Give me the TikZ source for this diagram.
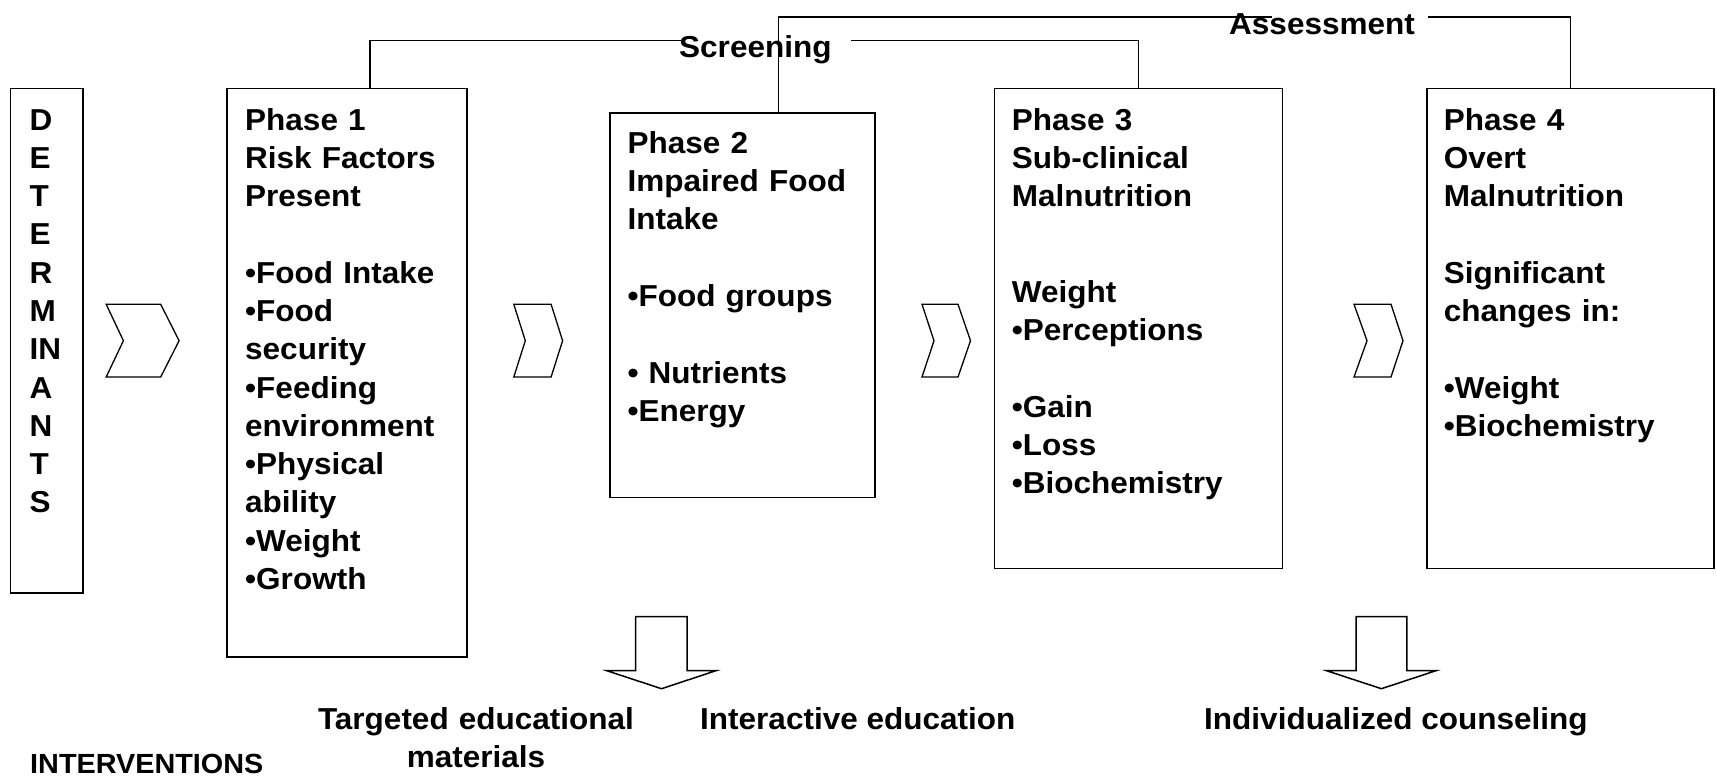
\documentclass[tikz,border=0pt]{standalone}
\usepackage{fontspec}
% Arial-metric face, very slightly widened like the slide lettering
\newfontfamily\slidefont[FakeStretch=1.04]{Liberation Sans}

\begin{document}
\begin{tikzpicture}[x=1pt, y=-1pt,
  frame/.style={draw=black, line width=1.6pt, inner sep=0pt, outer sep=0pt, anchor=north west},
  boxtext/.style={anchor=base west, inner sep=0pt, text width=300pt, align=left,
    font=\slidefont\bfseries\fontsize{30.3}{38.3}\selectfont},
  link/.style={draw=black, line width=1.6pt},
  chevron/.style={draw=black, line width=1.3pt, fill=white, line join=miter},
  blockarrow/.style={draw=black, line width=1.5pt, fill=white, line join=miter},
  caption/.style={inner sep=0pt, font=\slidefont\bfseries\fontsize{30.3}{38.3}\selectfont},
  tag/.style={inner sep=0pt, anchor=base west, font=\slidefont\bfseries\fontsize{30.3}{35}\selectfont},
  note/.style={inner sep=0pt, anchor=base west, font=\slidefont\bfseries\fontsize{27.7}{30}\selectfont},
]
\useasboundingbox (0,0) rectangle (1717,776);

% ---- boxes -------------------------------------------------------------
\node[frame, minimum width=72.4pt,  minimum height=504pt]   (det) at (10.3,88.7)   {};
\node[frame, minimum width=239.9pt, minimum height=568pt]   (p1)  at (226.8,88.7)  {};
\node[frame, minimum width=264.8pt, minimum height=384.6pt] (p2)  at (610.2,112.7) {};
\node[frame, minimum width=288.1pt, minimum height=479.6pt] (p3)  at (994.3,88.7)  {};
\node[frame, minimum width=287.3pt, minimum height=479.6pt] (p4)  at (1426.7,88.7) {};

% ---- box contents ------------------------------------------------------
\node[boxtext] (dett) at (29.5,130)
  {D\\E\\T\\E\\R\\M\\IN\\A\\N\\T\\S};
\node[boxtext] (p1t) at (245,130)
  {Phase 1\\Risk Factors\\Present\\[38.3pt]•Food Intake\\•Food\\security\\•Feeding\\environment\\•Physical\\ability\\•Weight\\•Growth};
\node[boxtext] (p2t) at (627.4,153.3)
  {Phase 2\\Impaired Food\\Intake\\[38.3pt]•Food groups\\[38.3pt]• Nutrients\\•Energy};
\node[boxtext] (p3t) at (1011.7,130)
  {Phase 3\\Sub-clinical\\Malnutrition\\[57.5pt]Weight\\•Perceptions\\[38.3pt]•Gain\\•Loss\\•Biochemistry};
\node[boxtext] (p4t) at (1443.7,130)
  {Phase 4\\Overt\\Malnutrition\\[38.3pt]Significant\\changes in:\\[38.3pt]•Weight\\•Biochemistry};

% ---- screening / assessment brackets ----------------------------------
\node[tag] (scr) at (679,58) {Screening};
\coordinate (scrL) at (681,40.5);
\coordinate (scrR) at (851,40.5);
\draw[link] ([xshift=23.5pt]p1.north) |- (scrL);
\draw[link] (scrR) -| (p3.north);

\node[tag] (ass) at (1229,34.5) {Assessment};
\coordinate (assL) at (1272,17);
\coordinate (assR) at (1428,17);
\draw[link] ([xshift=35.7pt]p2.north) |- (assL);
\draw[link] (assR) -| (p4.north);

% ---- chevrons between phases -------------------------------------------
\draw[chevron] (106.2,304.3) -- (160.7,304.3) -- (179.1,340.7) -- (160.7,377) -- (106.2,377) -- (123.4,340.7) -- cycle;
\draw[chevron] (513.8,304.3) -- (551.1,304.3) -- (562.6,340.7) -- (551.1,377) -- (513.8,377) -- (525.3,340.7) -- cycle;
\draw[chevron] (922,304.3) -- (958,304.3) -- (970.5,340.7) -- (958,377) -- (922,377) -- (934,340.7) -- cycle;
\draw[chevron] (1354,304.3) -- (1391,304.3) -- (1403,340.7) -- (1391,377) -- (1354,377) -- (1367,340.7) -- cycle;

% ---- intervention arrows -----------------------------------------------
\draw[blockarrow] (635.5,616.7) -- (687,616.7) -- (687,670.7) -- (716,670.7) -- (661.5,688.7) -- (606.8,670.7) -- (635.5,670.7) -- cycle;
\draw[blockarrow] (1356,616.7) -- (1406.8,616.7) -- (1406.8,670.7) -- (1436,670.7) -- (1381.4,688.7) -- (1326.6,670.7) -- (1356,670.7) -- cycle;

% ---- intervention labels -----------------------------------------------
\node[caption, anchor=base, text width=360pt, align=center] (tem) at (476,729)
  {Targeted educational\\materials};
\node[caption, anchor=base west] (ied) at (700,729) {Interactive education};
\node[caption, anchor=base west] (ico) at (1204,729) {Individualized counseling};
\node[note] (intv) at (30,773) {INTERVENTIONS};
\end{tikzpicture}
\end{document}
